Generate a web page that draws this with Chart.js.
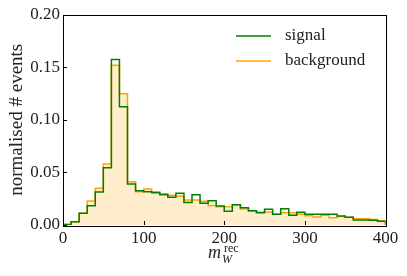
<!DOCTYPE html>
<html>
<head>
<meta charset="utf-8">
<script src="https://cdn.jsdelivr.net/npm/chart.js@4/dist/chart.umd.min.js"></script>
<style>
  html, body { margin: 0; padding: 0; background: #fff; }
  #wrap { width: 407px; height: 276px; }
</style>
</head>
<body>
<div id="wrap"><canvas id="c" width="407" height="276"></canvas></div>
<script>
// ---- data ----
const binStarts = [0,10,20,30,40,50,60,70,80,90,100,110,120,130,140,150,160,170,180,190,
                   200,210,220,230,240,250,260,270,280,290,300,310,320,330,340,350,360,370,380,390];
const binEnd = 400;
const signal = [0.0005,0.003,0.0112,0.0182,0.0313,0.0545,0.1572,0.1124,0.039,0.0326,
                0.0316,0.0307,0.0293,0.0263,0.0301,0.0213,0.0288,0.0206,0.0231,0.018,
                0.013,0.0193,0.0164,0.0136,0.0117,0.0149,0.0102,0.0155,0.0092,0.012,
                0.0102,0.0102,0.0102,0.0102,0.0086,0.0073,0.0047,0.0047,0.0044,0.0035];
const background = [0.0005,0.003,0.0112,0.0228,0.0349,0.0579,0.1517,0.1248,0.0412,0.0316,
                    0.0342,0.0316,0.0283,0.0282,0.0273,0.0238,0.0238,0.0225,0.0186,0.0174,
                    0.0174,0.0193,0.0152,0.0132,0.012,0.0124,0.0102,0.0117,0.0117,0.0102,
                    0.0089,0.0076,0.0092,0.007,0.008,0.0073,0.006,0.006,0.0053,0.0041];
const seriesLabels = ['signal', 'background'];
const xTicks = [0, 100, 200, 300, 400];
const yTicks = [0.00, 0.05, 0.10, 0.15, 0.20];
const yTitle = 'normalised # events';

// build step outline points (histtype = step): each value spans [start, next start)
function stepPoints(vals) {
  const pts = [{x: binStarts[0], y: 0}];
  vals.forEach((v, i) => pts.push({x: binStarts[i], y: v}));
  pts.push({x: binEnd, y: vals[vals.length - 1]});
  pts.push({x: binEnd, y: 0});
  return pts;
}

const SERIF = '"Liberation Serif", "Times New Roman", serif';
const GREEN = '#008000';
const ORANGE = '#ffa500';

const frame = {
  id: 'frame',
  afterDatasetsDraw(chart) {
    const {ctx, chartArea: a, scales} = chart;
    ctx.save();
    ctx.strokeStyle = '#000';
    ctx.lineWidth = 1;
    // inward ticks
    ctx.beginPath();
    xTicks.forEach(t => {
      const px = Math.round(scales.x.getPixelForValue(t)) + 0.5;
      ctx.moveTo(px, a.bottom); ctx.lineTo(px, a.bottom - 4);
    });
    yTicks.forEach(t => {
      const py = Math.round(scales.y.getPixelForValue(t)) + 0.5;
      ctx.moveTo(a.left, py); ctx.lineTo(a.left + 4, py);
    });
    ctx.stroke();
    ctx.strokeRect(Math.round(a.left) + 0.5, Math.round(a.top) + 0.5,
                   Math.round(a.right - a.left), Math.round(a.bottom - a.top));
    // legend
    const ds = chart.data.datasets;
    [0, 1].forEach((di, k) => {
      const y = 36 + k * 25;
      ctx.strokeStyle = ds[di].borderColor;
      ctx.lineWidth = 1.5;
      ctx.beginPath();
      ctx.moveTo(236, y); ctx.lineTo(271, y);
      ctx.stroke();
      ctx.fillStyle = '#222';
      ctx.font = '17px ' + SERIF;
      ctx.textAlign = 'left';
      ctx.textBaseline = 'middle';
      ctx.fillText(ds[di].label, 285, y);
    });
    // x title: m_W^rec
    ctx.fillStyle = '#222';
    ctx.textBaseline = 'alphabetic';
    ctx.textAlign = 'left';
    ctx.font = 'italic 18px ' + SERIF;
    ctx.fillText('m', 208, 258);
    ctx.font = '12px ' + SERIF;
    ctx.fillText('rec', 224, 252);
    ctx.font = 'italic 12px ' + SERIF;
    ctx.fillText('W', 222, 263);
    ctx.restore();
  }
};

new Chart(document.getElementById('c'), {
  type: 'line',
  data: {
    datasets: [
      { label: seriesLabels[0], data: stepPoints(signal), stepped: 'before',
        borderColor: GREEN, borderWidth: 1.5, pointRadius: 0, fill: false },
      { label: seriesLabels[1], data: stepPoints(background), stepped: 'before',
        borderColor: ORANGE, borderWidth: 1.5, pointRadius: 0,
        fill: 'origin', backgroundColor: 'rgba(255,165,0,0.2)' }
    ]
  },
  options: {
    responsive: false,
    animation: false,
    devicePixelRatio: 1,
    layout: { padding: { left: 0, top: 14.5, right: 21.5, bottom: 0 } },
    plugins: {
      legend: { display: false },
      tooltip: { enabled: false },
      filler: { drawTime: 'beforeDatasetsDraw' }
    },
    scales: {
      x: {
        type: 'linear', min: 0, max: 400,
        afterBuildTicks: s => { s.ticks = xTicks.map(v => ({value: v})); },
        afterFit: s => { s.height = 51; },
        grid: { display: false, drawTicks: false },
        border: { display: false },
        ticks: { color: '#222', font: { family: SERIF, size: 17 }, padding: 3, maxRotation: 0,
                 callback: v => String(v) }
      },
      y: {
        type: 'linear', min: 0, max: 0.2,
        afterBuildTicks: s => { s.ticks = yTicks.map(v => ({value: v})); },
        afterFit: s => { s.width = 63; },
        grid: { display: false, drawTicks: false },
        border: { display: false },
        ticks: { color: '#222', font: { family: SERIF, size: 17 }, padding: 3,
                 callback: v => v.toFixed(2) },
        title: { display: true, text: yTitle, color: '#222',
                 font: { family: SERIF, size: 19 }, padding: { top: 6, bottom: 0 } }
      }
    }
  },
  plugins: [frame]
});
</script>
</body>
</html>
